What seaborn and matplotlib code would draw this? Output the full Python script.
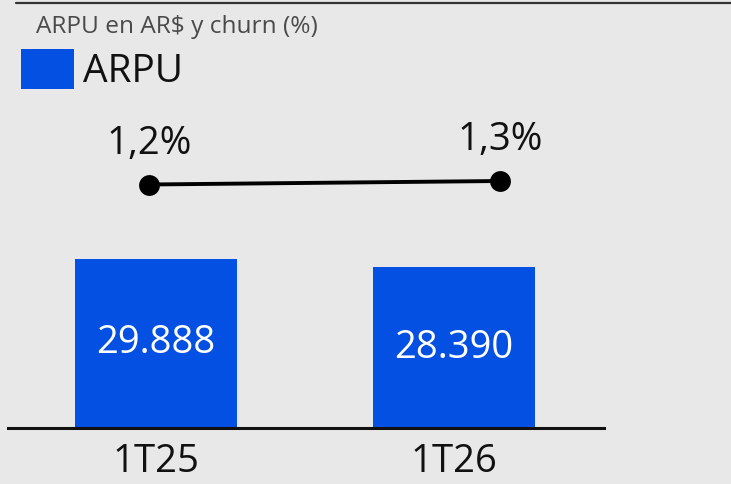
import matplotlib
matplotlib.use("Agg")
import matplotlib.pyplot as plt
import seaborn as sns
from matplotlib.patches import Patch
from matplotlib.lines import Line2D

# data
periods = ["1T25", "1T26"]
arpu = [29888, 28390]
churn = [1.2, 1.3]
churn_labels = ["1,2%", "1,3%"]

BG = "#e8e8e8"
BLUE = "#0350e3"

sns.set_theme(style="white")
plt.rcParams["font.family"] = ["Open Sans", "DejaVu Sans"]

W, H = 731, 484
fig = plt.figure(figsize=(W / 100, H / 100), dpi=100)
fig.patch.set_facecolor(BG)

# bar axes: baseline at y=428 px, spans x 8..604 px
ax = fig.add_axes([8 / W, (H - 428) / H, (604 - 8) / W, (428 - 100) / H])
ax.set_facecolor("none")
sns.barplot(x=periods, y=arpu, color=BLUE, saturation=1, width=0.544,
            edgecolor="none", linewidth=0, ax=ax)
ax.set_xlim(-0.497, 1.503)
ax.set_ylim(0, 58007)
for s in ["top", "left", "right"]:
    ax.spines[s].set_visible(False)
ax.spines["bottom"].set_color("#111111")
ax.spines["bottom"].set_linewidth(2.2)
ax.set_yticks([])
ax.set_xlabel("")
ax.set_ylabel("")
ax.tick_params(axis="x", length=0, pad=11, labelsize=27.5, labelcolor="#111111")

lbls = [f"{v:,}".replace(",", ".") for v in arpu]
ax.bar_label(ax.containers[0], labels=lbls, label_type="center",
             color="white", fontsize=27.5)

# churn line on an overlay axes
ax2 = fig.add_axes([0, 0, 1, 1])
ax2.set_facecolor("none")
ax2.axis("off")
xs = [0, 1]
sns.lineplot(x=xs, y=churn, ax=ax2, color="black", linewidth=2.8,
             marker="o", markersize=15, markeredgewidth=0)
ax2.set_xlim(-149 / 351, 582 / 351)
ax2.set_ylim(1.2 - 299.5 / 35, 1.2 + 184.5 / 35)
for x, y, t in zip(xs, churn, churn_labels):
    ax2.annotate(t, (x, y), xytext=(0, 22), textcoords="offset points",
                 ha="center", va="baseline", fontsize=27.5, color="#111111")

# title, top rule, legend
fig.add_artist(Line2D([16 / W, 1], [1 - 3 / H, 1 - 3 / H], color="#333333", lw=1.6))
fig.text(36 / W, 1 - 33 / H, "ARPU en AR$ y churn (%)", fontsize=17.6,
         color="#4a4a4a", va="baseline")
fig.legend(handles=[Patch(facecolor=BLUE, edgecolor="none")], labels=["ARPU"],
           loc="upper left", bbox_to_anchor=(21 / W, 1 - 49 / H), frameon=False,
           fontsize=28, handlelength=1.36, handleheight=1.2, handletextpad=0.24,
           borderpad=0, borderaxespad=0, labelcolor="#111111")

fig.savefig("out.png", dpi=100, facecolor=BG)
